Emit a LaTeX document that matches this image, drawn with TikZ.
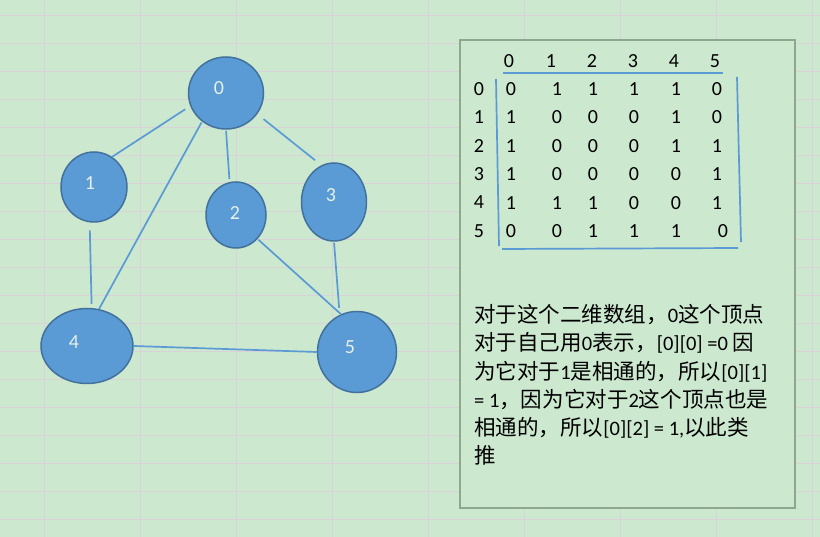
\documentclass[tikz,border=0pt]{standalone}
\usepackage{fontspec}
\setmainfont{Carlito}
\newfontfamily\cjk[Scale=1.05]{Noto Sans CJK SC}
\usetikzlibrary{shapes.geometric}
\definecolor{sheetbg}{HTML}{CCE8CF}
\definecolor{gridline}{HTML}{D9D3D9}
\definecolor{vfill}{HTML}{5B9BD5}
\definecolor{vborder}{HTML}{41719C}
\definecolor{vtext}{HTML}{E6F0E6}
\definecolor{boxline}{HTML}{8FA68F}

\begin{document}
\begin{tikzpicture}[x=1pt, y=-1pt,
  font=\fontsize{20}{24}\selectfont,
  vertex/.style={ellipse, draw=vborder, line width=1.5pt, fill=vfill, inner sep=0pt},
  vlabel/.style={text=vtext, inner sep=0pt},
  edge/.style={vfill, line width=1.7pt},
  entry/.style={inner sep=0pt, anchor=center}]
  \useasboundingbox (0,0) rectangle (820,537);
  \fill[sheetbg] (0,0) rectangle (820,537);
  % spreadsheet grid
  \foreach \i in {0,...,8}
    \draw[gridline, line width=1pt] (44+96.1*\i,0) -- (44+96.1*\i,537);
  \foreach \j in {0,...,18}
    \draw[gridline, line width=1pt] (0,15.5+28*\j) -- (820,15.5+28*\j);

  % graph
  \node[vertex, minimum width=75pt, minimum height=72pt] (v0) at (226,93) {};
  \node[vertex, minimum width=66pt, minimum height=70pt] (v1) at (94,187) {};
  \node[vertex, minimum width=60pt, minimum height=66pt] (v2) at (236,215) {};
  \node[vertex, minimum width=65pt, minimum height=78pt] (v3) at (334,202) {};
  \node[vertex, minimum width=92pt, minimum height=75pt] (v4) at (87,346) {};
  \node[vertex, minimum width=79pt, minimum height=81pt] (v5) at (357,352) {};
  \node[vlabel] (l0) at (219,88) {0};
  \node[vlabel] (l1) at (90,183) {1};
  \node[vlabel] (l2) at (235,213) {2};
  \node[vlabel] (l3) at (331,195) {3};
  \node[vlabel] (l4) at (74,342) {4};
  \node[vlabel] (l5) at (350,347) {5};
  \draw[edge, shorten <=6pt] (v0.200) -- (v1.59);
  \draw[edge, shorten <=1pt] (v0.230) -- (v4.72);
  \draw[edge, shorten <=1pt, shorten >=3pt] (v0.270) -- (v2.101);
  \draw[edge, shorten <=8pt, shorten >=8pt] (v0.326) -- (v3.109);
  \draw[edge, shorten <=8pt, shorten >=4pt] (v1.263) -- (v4.83);
  \draw[edge, shorten <=1pt] (v2.312) -- (v5.113);
  \draw[edge, shorten <=1pt, shorten >=7pt] (v3.270) -- (v5.115);
  \draw[edge] (v4.0) -- (v5.180);

  % text box
  \draw[boxline, line width=2pt, fill=sheetbg] (460,40) rectangle (795,508);
  \foreach \c [count=\k from 0] in {509,551,592,633,674,715}
    \node[entry] (h\k) at (\c,61) {\k};
  \foreach \r [count=\k from 0] in {89,117,146,174,202,231}
    \node[entry] (r\k) at (479,\r) {\k};
  \foreach \a/\b/\c/\d/\e/\f [count=\k from 0] in
    {0/1/1/1/1/0, 1/0/0/0/1/0, 1/0/0/0/1/1, 1/0/0/0/0/1, 1/1/1/0/0/1, 0/0/1/1/1/0}
  {
    \pgfmathsetmacro{\ry}{89+28.4*\k}
    \node[entry] at (511,\ry) {\a};
    \node[entry] at (557,\ry) {\b};
    \node[entry] at (593,\ry) {\c};
    \node[entry] at (634,\ry) {\d};
    \node[entry] at (676,\ry) {\e};
    \node[entry] at (\ifnum\k=5 723\else 717\fi,\ry) {\f};
  }
  \draw[vfill, line width=1.7pt] (503,73) -- (723,73);
  \draw[vfill, line width=1.7pt] (496,79) -- (499,246);
  \draw[vfill, line width=1.7pt] (737,77) -- (741,242);
  \draw[vfill, line width=1.7pt] (502,249) -- (738,248);

  \node[anchor=north west, inner sep=0pt, align=left,
    font=\fontsize{20.5}{28.3}\selectfont] (note) at (474,304) {%
    {\cjk 对于这个二维数组，}0{\cjk 这个顶点}\\
    {\cjk 对于自己用}0{\cjk 表示，}[0][0] =0 {\cjk 因}\\
    {\cjk 为它对于}1{\cjk 是相通的，所以}[0][1]\\
    = 1{\cjk ，因为它对于}2{\cjk 这个顶点也是}\\
    {\cjk 相通的，所以}[0][2] = 1,{\cjk 以此类}\\
    {\cjk 推}};
\end{tikzpicture}
\end{document}
